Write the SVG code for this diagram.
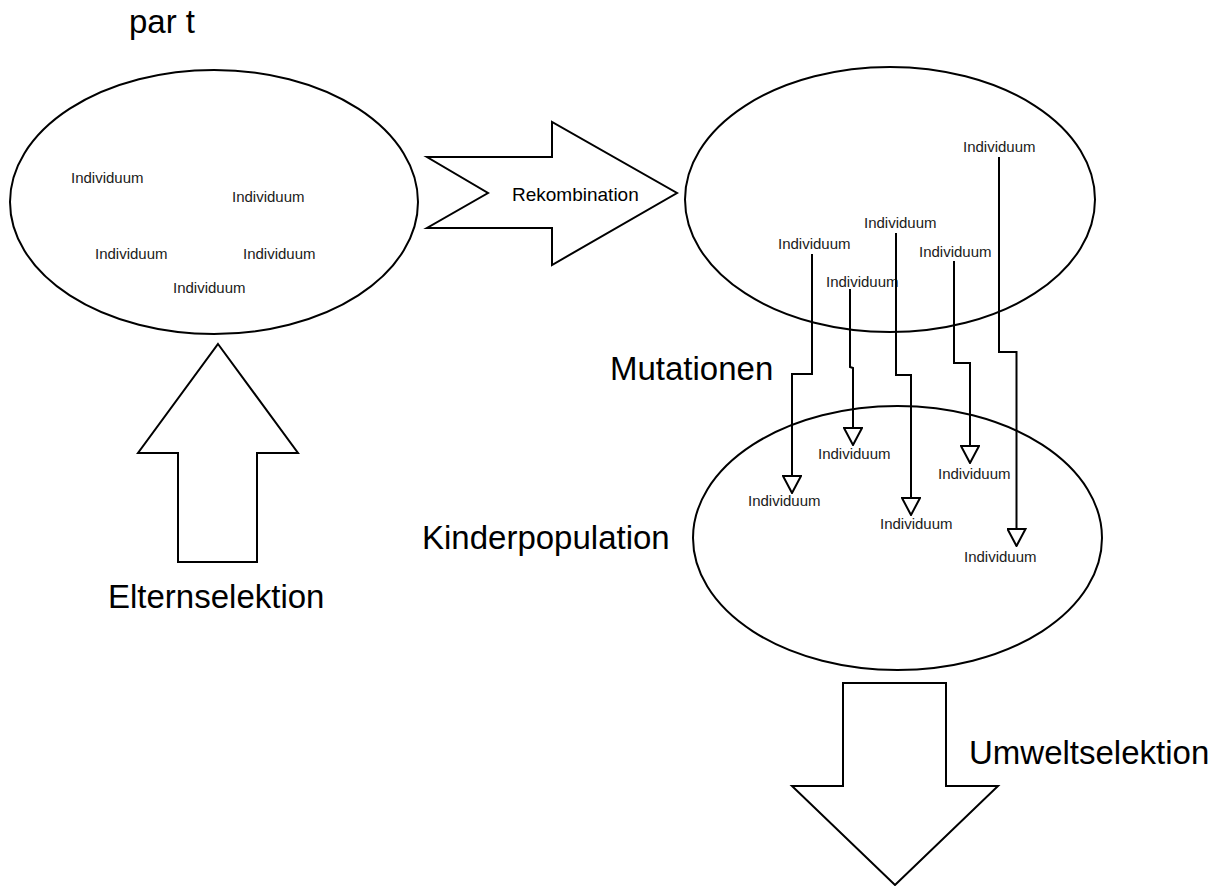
<svg xmlns="http://www.w3.org/2000/svg" width="1226" height="886" viewBox="0 0 1226 886">
  <style>
    .shape { fill: #ffffff; stroke: #000000; stroke-width: 2; stroke-linejoin: miter; }
    .link { fill: none; stroke: #000000; stroke-width: 2; }
    .ind { font-family: "Liberation Sans", Arial, sans-serif; font-size: 15px; fill: #1a1a1a; }
    .big { font-family: "Liberation Sans", Arial, sans-serif; font-size: 33px; fill: #000000; }
    .mid { font-family: "Liberation Sans", Arial, sans-serif; font-size: 19px; fill: #000000; }
  </style>
  <defs>
    <marker id="openTri" viewBox="0 0 19 20" refX="18" refY="10" markerWidth="19" markerHeight="20" markerUnits="userSpaceOnUse" orient="auto">
      <path d="M1,1 L18,10 L1,19 Z" fill="#ffffff" stroke="#000000" stroke-width="2"/>
    </marker>
  </defs>
  <rect width="1226" height="886" fill="#ffffff"/>

  <text class="big" x="129" y="33">par t</text>

  <!-- parent population -->
  <g id="eltern">
    <ellipse class="shape" cx="214" cy="202" rx="204" ry="132"/>
    <text class="ind" x="71" y="183">Individuum</text>
    <text class="ind" x="232" y="202">Individuum</text>
    <text class="ind" x="95" y="259">Individuum</text>
    <text class="ind" x="243" y="259">Individuum</text>
    <text class="ind" x="173" y="293">Individuum</text>
  </g>

  <!-- recombination arrow -->
  <g id="rekombination">
    <polygon class="shape" points="427,157 552,157 552,122 677,193 552,265 552,228 427,228 488,193"/>
    <text class="mid" x="512" y="201">Rekombination</text>
  </g>

  <!-- parent selection arrow -->
  <g id="elternselektion">
    <polygon class="shape" points="218,344 298,453 257,453 257,562 178,562 178,453 138,453"/>
    <text class="big" x="108" y="608">Elternselektion</text>
  </g>

  <!-- recombined population -->
  <g id="rekombiniert">
    <ellipse class="shape" cx="890" cy="199.5" rx="205" ry="132.5"/>
    <text class="ind" x="963" y="152">Individuum</text>
    <text class="ind" x="864" y="228">Individuum</text>
    <text class="ind" x="778" y="249">Individuum</text>
    <text class="ind" x="919" y="257">Individuum</text>
    <text class="ind" x="826" y="287">Individuum</text>
  </g>

  <text class="big" x="610" y="380">Mutationen</text>

  <!-- offspring population -->
  <g id="kinder">
    <ellipse class="shape" cx="897.5" cy="538" rx="204.5" ry="132"/>
    <text class="big" x="422" y="549">Kinderpopulation</text>
  </g>

  <!-- mutation connectors -->
  <g id="connectors">
    <polyline class="link" points="999,157 999,352 1016.5,352 1016.5,546" marker-end="url(#openTri)"/>
    <polyline class="link" points="896,233 896,375 911,375 911,515" marker-end="url(#openTri)"/>
    <polyline class="link" points="812,254 812,374 792,374 792,493" marker-end="url(#openTri)"/>
    <polyline class="link" points="850,289 850,367 853,368 853,445" marker-end="url(#openTri)"/>
    <polyline class="link" points="954,261 954,363 970,363 970,463" marker-end="url(#openTri)"/>
  </g>

  <!-- mutated individuals -->
  <g id="kinder-individuen">
    <text class="ind" x="748" y="506">Individuum</text>
    <text class="ind" x="818" y="459">Individuum</text>
    <text class="ind" x="880" y="529">Individuum</text>
    <text class="ind" x="938" y="479">Individuum</text>
    <text class="ind" x="964" y="562">Individuum</text>
  </g>

  <!-- environmental selection arrow -->
  <g id="umweltselektion">
    <polygon class="shape" points="843,683 946,683 946,786 998,786 895,885 792,786 843,786"/>
    <text class="big" x="969" y="764">Umweltselektion</text>
  </g>
</svg>
